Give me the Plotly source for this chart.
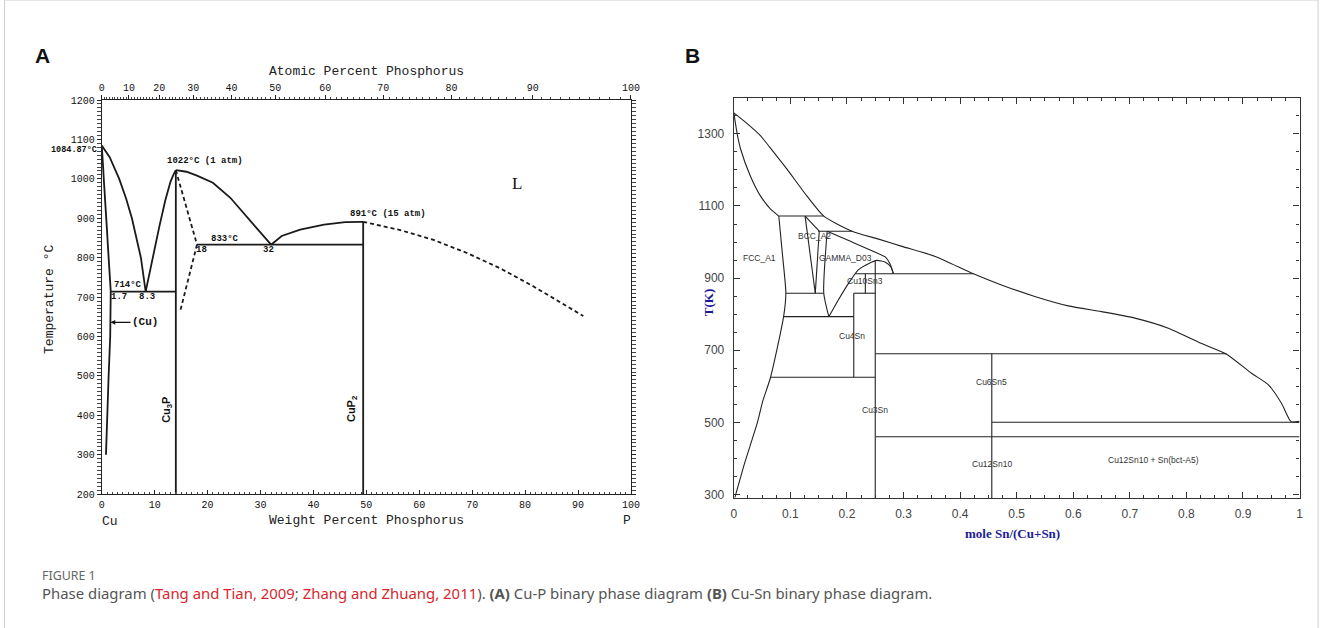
import plotly.graph_objects as go

W, H = 1322, 628

# ---------------- Panel A : Cu-P (weight % P, temperature in deg C) ----------------
cu_liq_x = [0, 1.5, 3.3, 4.6, 5.7, 6.6, 7.4, 8.3]
cu_liq_t = [1084.87, 1055, 1000, 950, 900, 850, 800, 714]
cu_sol_x = [0, 0.4, 0.9, 1.3, 1.7]
cu_sol_t = [1084.87, 1000, 900, 800, 714]
cu_solvus_x = [1.7, 1.6, 1.3, 1.0, 0.8]
cu_solvus_t = [714, 600, 500, 400, 300]
cu3p_liq_l_x = [8.3, 9.0, 9.9, 10.9, 12.0, 13.0, 13.6, 14.0]
cu3p_liq_l_t = [714, 760, 815, 880, 945, 993, 1012, 1022]
cu3p_liq_r_x = [14, 16, 18, 21, 24.3, 26.8, 29.3, 32]
cu3p_liq_r_t = [1022, 1018, 1008, 990, 952, 913, 875, 833]
cup2_liq_x = [32, 34, 37.5, 42, 46, 49.4]
cup2_liq_t = [833, 855, 871, 884, 890, 891]
p_liq_dash_x = [49.4, 56.4, 62.7, 69.0, 75.3, 81.6, 86.0, 91.0]
p_liq_dash_t = [891, 870, 845, 812, 773, 727, 692, 652]
cu3p_dash1_x = [14, 18]
cu3p_dash1_t = [1022, 833]
cu3p_dash2_x = [18, 14.8]
cu3p_dash2_t = [833, 663]
eut1_x = [1.7, 14]
eut1_t = [714, 714]
eut2_x = [18, 49.4]
eut2_t = [833, 833]
cu3p_line_x = [14, 14]
cu3p_line_t = [200, 1022]
cup2_line_x = [49.4, 49.4]
cup2_line_t = [200, 891]

a_xticks = list(range(0, 101, 10))
a_yticks = list(range(200, 1201, 100))
at_major = list(range(0, 101, 10))
at_minor = list(range(0, 101, 1))
M_P, M_CU = 30.974, 63.546


def at2wt(a):
    return 100.0 * a * M_P / (a * M_P + (100 - a) * M_CU)


# ---------------- Panel B : Cu-Sn (mole fraction Sn, T in K) ----------------
liq_x = [0, 0.02, 0.047, 0.07, 0.094, 0.129, 0.159, 0.209, 0.256, 0.297, 0.356, 0.4235, 0.473,
         0.532, 0.591, 0.650, 0.709, 0.768, 0.826, 0.871, 0.915, 0.945, 0.968, 0.985, 1.0]
liq_t = [1358, 1333, 1295, 1250, 1202, 1128, 1072, 1030, 1008, 988, 960, 912, 881,
         849, 823, 807, 789, 761, 719, 689, 636, 604, 553, 502, 503]
fcc_sol_x = [0, 0.006, 0.012, 0.029, 0.047, 0.065, 0.0795]
fcc_sol_t = [1358, 1300, 1258, 1184, 1128, 1091, 1072]
fcc_solvus_x = [0.0795, 0.086, 0.092, 0.088, 0.065, 0.051, 0.042, 0.019, 0.002]
fcc_solvus_t = [1072, 965, 858, 793, 625, 558, 501, 386, 292]
bcc_left_x = [0.126, 0.144]
bcc_left_t = [1072, 858]
bcc_diag_x = [0.126, 0.151]
bcc_diag_t = [1072, 1030]
bcc_right_x = [0.151, 0.144]
bcc_right_t = [1030, 858]
gam_left_x = [0.165, 0.159, 0.168]
gam_left_t = [1030, 858, 793]
gam_up_x = [0.165, 0.203, 0.244, 0.268, 0.276, 0.282]
gam_up_t = [1030, 1004, 976, 958, 940, 912]
gam_dome_x = [0.168, 0.185, 0.203, 0.220, 0.238, 0.253, 0.268, 0.278, 0.282]
gam_dome_t = [793, 840, 886, 923, 940, 949, 944, 930, 912]
# horizontal invariant lines: (x0, x1, T)
h_x0 = [0.0795, 0.149, 0.092, 0.212, 0.088, 0.215, 0.25, 0.065, 0.456, 0.25]
h_x1 = [0.159, 0.209, 0.159, 0.25, 0.212, 0.4235, 0.871, 0.25, 1.0, 1.0]
h_t = [1072, 1030, 858, 858, 793, 912, 690, 625, 500, 460]
# vertical lines: (x, T0, T1)
v_x = [0.2325, 0.212, 0.25, 0.456]
v_t0 = [912, 858, 949, 690]
v_t1 = [858, 625, 290, 290]
b_labels = ["FCC_A1", "BCC_A2", "GAMMA_D03", "Cu10Sn3", "Cu4Sn", "Cu6Sn5", "Cu3Sn",
            "Cu12Sn10", "Cu12Sn10 + Sn(bct-A5)"]
b_label_x = [0.046, 0.143, 0.197, 0.232, 0.209, 0.456, 0.25, 0.456, 0.742]
b_label_t = [957, 1017, 957, 893, 739, 613, 535, 385, 396]
b_xticks = [round(0.1 * i, 1) for i in range(11)]
b_xticktext = ["0", "0.1", "0.2", "0.3", "0.4", "0.5", "0.6", "0.7", "0.8", "0.9", "1"]
b_yticks = [300, 500, 700, 900, 1100, 1300]


# ---------------- layout helpers (target pixels -> paper) ----------------
OX, SX, OY, SY = 3.0, 0.9905, 5.0, 0.981


def xp(px):
    return ((px - OX) / SX) / W


def yp(py):
    return 1 - ((py - OY) / SY) / H


A_L, A_R, A_T, A_B = 101.7, 630.7, 100.7, 493.7
B_L, B_R, B_T, B_B = 733.5, 1299.0, 98.5, 497.5

fig = go.Figure()

MONO = "Liberation Mono"
SANS = "Liberation Sans"
SERIF = "Liberation Serif"


def line_a(x, y, dash=None, width=1.8):
    fig.add_trace(go.Scatter(x=x, y=y, mode="lines", xaxis="x", yaxis="y",
                             line=dict(color="#1a1a1a", width=width, dash=dash),
                             showlegend=False, hoverinfo="skip"))


def line_b(x, y):
    fig.add_trace(go.Scatter(x=x, y=y, mode="lines", xaxis="x3", yaxis="y3",
                             line=dict(color="#222", width=1.1, shape="spline", smoothing=0.6),
                             showlegend=False, hoverinfo="skip"))


line_a(cu_liq_x, cu_liq_t)
line_a(cu_sol_x, cu_sol_t)
line_a(cu_solvus_x, cu_solvus_t)
line_a(cu3p_liq_l_x, cu3p_liq_l_t)
line_a(cu3p_liq_r_x, cu3p_liq_r_t)
line_a(cup2_liq_x, cup2_liq_t)
line_a(p_liq_dash_x, p_liq_dash_t, dash="4px,3px")
line_a(cu3p_dash1_x, cu3p_dash1_t, dash="4px,3px")
line_a(cu3p_dash2_x, cu3p_dash2_t, dash="4px,3px")
line_a(eut1_x, eut1_t)
line_a(eut2_x, eut2_t)
line_a(cu3p_line_x, cu3p_line_t)
line_a(cup2_line_x, cup2_line_t)

line_b(liq_x, liq_t)
line_b(fcc_sol_x, fcc_sol_t)
line_b(fcc_solvus_x, fcc_solvus_t)
line_b(bcc_left_x, bcc_left_t)
line_b(bcc_diag_x, bcc_diag_t)
line_b(bcc_right_x, bcc_right_t)
line_b(gam_left_x, gam_left_t)
line_b(gam_up_x, gam_up_t)
line_b(gam_dome_x, gam_dome_t)
for x0, x1, t in zip(h_x0, h_x1, h_t):
    line_b([x0, x1], [t, t])
for x, t0, t1 in zip(v_x, v_t0, v_t1):
    line_b([x, x], [t0, t1])

# invisible trace on the top (atomic %) axis so that it renders
fig.add_trace(go.Scatter(x=[0], y=[200], xaxis="x2", yaxis="y", mode="markers",
                         marker=dict(opacity=0), showlegend=False, hoverinfo="skip"))

ann = []


def a_text(text, x, y, size=9, xanchor="center", yanchor="middle", angle=0, family=MONO, bold=True):
    t = "<b>%s</b>" % text if bold else text
    ann.append(dict(text=t, x=x, y=y, xref="x", yref="y", showarrow=False,
                    xanchor=xanchor, yanchor=yanchor, textangle=angle,
                    font=dict(family=family, size=size, color="#111")))


def p_text(text, px, py, size=13, family=MONO, color="#222", xanchor="center", angle=0):
    ann.append(dict(text=text, x=xp(px), y=yp(py), xref="paper", yref="paper",
                    showarrow=False, xanchor=xanchor, yanchor="middle", textangle=angle,
                    font=dict(family=family, size=size, color=color)))


a_text("1022°C (1 atm)", 12.0, 1045, xanchor="left")
a_text("833°C", 23.3, 848)
a_text("18", 18.8, 820)
a_text("32", 31.5, 820)
a_text("714°C", 2.0, 730, xanchor="left")
a_text("1.7", 3.2, 700)
a_text("8.3", 8.5, 700)
a_text("891°C (15 atm)", 54.0, 910)
a_text("L", 78.4, 988, size=17, family=SERIF, bold=False)
a_text("Cu<sub>3</sub>P", 12.4, 415, size=11, angle=-90, family=SANS)
a_text("CuP<sub>2</sub>", 47.4, 415, size=11, angle=-90, family=SANS)
ann.append(dict(text="<b>(Cu)</b>", x=1.65, y=636, xref="x", yref="y", showarrow=True,
                ax=20, ay=0, xanchor="left", yanchor="middle", arrowhead=2, arrowsize=0.8,
                arrowwidth=1.2, arrowcolor="#111",
                font=dict(family=MONO, size=11, color="#111")))

for txt, x, t in zip(b_labels, b_label_x, b_label_t):
    ann.append(dict(text=txt, x=x, y=t, xref="x3", yref="y3", showarrow=False,
                    xanchor="center", yanchor="middle",
                    font=dict(family=SANS, size=8.5, color="#333")))

p_text("<b>1084.87°C</b>", 99, 151, size=8.5, family=MONO, color="#111", xanchor="right")
p_text("<b>A</b>", 42, 56, size=21, family=SANS, color="#111")
p_text("<b>B</b>", 692, 56, size=21, family=SANS, color="#111")
p_text("Atomic Percent Phosphorus", 366, 72)
p_text("Weight Percent Phosphorus", 366, 520)
p_text("Cu", 110, 521)
p_text("P", 627, 520)
p_text("Temperature °C", 50, 300, angle=-90)
p_text("<b>T(K)</b>", 709, 303, family=SERIF, color="#1c1c96", angle=-90)
p_text("<b>mole Sn/(Cu+Sn)</b>", 1012, 533, family=SERIF, color="#1c1c96")
p_text("FIGURE 1", 40, 575, size=12.4, family="Noto Sans", color="#666", xanchor="left")
p_text(("Phase diagram (<span style='color:#d9262c'>Tang and Tian, 2009</span>; "
        "<span style='color:#d9262c'>Zhang and Zhuang, 2011</span>). <b>(A)</b> Cu-P binary "
        "phase diagram <b>(B)</b> Cu-Sn binary phase diagram."),
       40, 592, size=14.9, family="Noto Sans", color="#555", xanchor="left")

tickA = dict(family=MONO, size=10, color="#111")
tickB = dict(family=SANS, size=12, color="#444")

fig.update_layout(
    width=W, height=H, margin=dict(l=0, r=0, t=0, b=0), autosize=False,
    paper_bgcolor="white", plot_bgcolor="white",
    annotations=ann,
    xaxis=dict(domain=[xp(A_L), xp(A_R)], anchor="y", range=[0, 100],
               tickvals=a_xticks, ticks="inside", ticklen=4, tickwidth=1, tickcolor="#222",
               minor=dict(dtick=1, tick0=0, ticks="inside", ticklen=2, tickcolor="#444"),
               showline=True, linecolor="#222", linewidth=1.2, mirror=False,
               showgrid=False, zeroline=False, tickfont=tickA, ticklabelstandoff=1),
    xaxis2=dict(overlaying="x", anchor="y", side="top", range=[0, 100],
                tickvals=[at2wt(a) for a in at_major], ticktext=[str(a) for a in at_major],
                ticks="outside", ticklen=4, tickwidth=1, tickcolor="#222",
                minor=dict(tickvals=[at2wt(a) for a in at_minor], ticks="outside", ticklen=2,
                           tickcolor="#444"),
                showline=True, linecolor="#222", linewidth=1.2,
                showgrid=False, zeroline=False, tickfont=tickA),
    yaxis=dict(domain=[yp(A_B), yp(A_T)], anchor="x", range=[200, 1200],
               tickvals=a_yticks, ticks="outside", ticklen=4, tickwidth=1, tickcolor="#222",
               minor=dict(dtick=10, tick0=200, ticks="outside", ticklen=2, tickcolor="#444"),
               showline=True, linecolor="#222", linewidth=1.2, mirror="allticks",
               showgrid=False, zeroline=False, tickfont=tickA),
    xaxis3=dict(domain=[xp(B_L), xp(B_R)], anchor="y3", range=[0, 1],
                tickvals=b_xticks, ticktext=b_xticktext, ticks="inside", ticklen=6,
                tickcolor="#333",
                minor=dict(dtick=0.025, tick0=0, ticks="inside", ticklen=3, tickcolor="#333"),
                showline=True, linecolor="#333", linewidth=1.2, mirror="allticks",
                showgrid=False, zeroline=False, tickfont=tickB, ticklabelstandoff=4),
    yaxis3=dict(domain=[yp(B_B), yp(B_T)], anchor="x3", range=[290, 1400],
                tickvals=b_yticks, ticks="inside", ticklen=6, tickcolor="#333",
                minor=dict(dtick=50, tick0=300, ticks="inside", ticklen=3, tickcolor="#333"),
                showline=True, linecolor="#333", linewidth=1.2, mirror="allticks",
                showgrid=False, zeroline=False, tickfont=tickB, ticklabelstandoff=6),
    shapes=[dict(type="rect", xref="paper", yref="paper", x0=xp(4.5), x1=xp(1317.5),
                 y0=-0.05, y1=yp(1), line=dict(color="#cfcfcf", width=1))],
)

fig.write_html(
    "out.html",
    config={"displayModeBar": False, "responsive": False},
    post_script=("document.documentElement.style.margin='0';"
                 "document.body.style.margin='0';"
                 "document.body.style.overflow='hidden';"
                 "document.documentElement.style.overflow='hidden';"),
)
